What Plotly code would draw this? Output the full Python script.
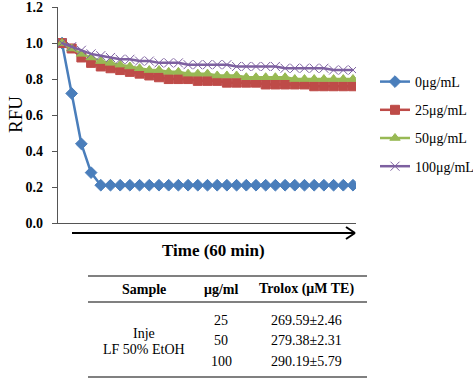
import plotly.graph_objects as go

time_min = list(range(0, 61, 2))
series_names = ["0μg/mL", "25μg/mL", "50μg/mL", "100μg/mL"]
rfu_0 = [1.00, 0.72, 0.44, 0.28, 0.21, 0.21, 0.21, 0.21, 0.21, 0.21, 0.21, 0.21, 0.21, 0.21, 0.21, 0.21,
         0.21, 0.21, 0.21, 0.21, 0.21, 0.21, 0.21, 0.21, 0.21, 0.21, 0.21, 0.21, 0.21, 0.21, 0.21]
rfu_25 = [1.00, 0.97, 0.92, 0.89, 0.87, 0.86, 0.85, 0.84, 0.83, 0.82, 0.81, 0.80, 0.80, 0.80, 0.79, 0.79,
          0.79, 0.78, 0.78, 0.78, 0.78, 0.77, 0.77, 0.77, 0.77, 0.77, 0.76, 0.76, 0.76, 0.76, 0.76]
rfu_50 = [1.00, 0.97, 0.94, 0.92, 0.90, 0.89, 0.88, 0.87, 0.86, 0.85, 0.85, 0.84, 0.84, 0.83, 0.83, 0.83,
          0.82, 0.82, 0.82, 0.81, 0.81, 0.81, 0.81, 0.81, 0.80, 0.80, 0.80, 0.80, 0.80, 0.80, 0.80]
rfu_100 = [1.00, 0.98, 0.96, 0.94, 0.93, 0.92, 0.91, 0.91, 0.90, 0.90, 0.89, 0.89, 0.89, 0.88, 0.88, 0.88,
           0.88, 0.88, 0.87, 0.87, 0.87, 0.87, 0.87, 0.86, 0.86, 0.86, 0.86, 0.86, 0.85, 0.85, 0.85]
y_ticks = [0.0, 0.2, 0.4, 0.6, 0.8, 1.0, 1.2]

table_header = ["Sample", "μg/ml", "Trolox (μM TE)"]
table_sample = ["Inje", "LF 50% EtOH"]
table_conc = ["25", "50", "100"]
table_trolox = ["269.59±2.46", "279.38±2.31", "290.19±5.79"]

colors = ["#4a7ebb", "#be4b48", "#98b954", "#7d60a0"]
symbols = ["diamond", "square", "triangle-up", "x-thin-open"]
sizes = [9, 9, 9, 9]
serif = "Liberation Serif"

W, H = 473, 379
L, R, T, B = 58, 356, 7, 223
YMAX = 1.2005

def px(xp):
    return (xp - L) / (R - L)

def py(yp):
    return (B - yp) / (B - T)

fig = go.Figure()
for i, (name, ys) in enumerate(zip(series_names, [rfu_0, rfu_25, rfu_50, rfu_100])):
    fig.add_trace(go.Scatter(
        x=time_min, y=ys, name=name, mode="lines+markers",
        line=dict(color=colors[i], width=2.5),
        marker=dict(symbol=symbols[i], size=sizes[i], color=colors[i],
                    line=dict(color=colors[i], width=1)),
        legendgroup=str(i),
    ))

fig.update_layout(
    width=W, height=H, autosize=False,
    margin=dict(l=L, r=W - R, t=T, b=H - B, pad=0, autoexpand=False),
    paper_bgcolor="white", plot_bgcolor="white",
    showlegend=True,
    legend=dict(x=px(375), y=py(66), xanchor="left", yanchor="top",
                font=dict(family=serif, size=14, color="black"),
                tracegroupgap=7, bgcolor="rgba(0,0,0,0)"),
    xaxis=dict(range=[-0.82, 60.62], showgrid=False, zeroline=False, automargin=False,
               showticklabels=False, ticks="", showline=True,
               linecolor="#555", linewidth=1.2),
    yaxis=dict(range=[0, YMAX], tickmode="array", tickvals=y_ticks, automargin=False,
               ticktext=["%.1f" % v for v in y_ticks], showgrid=False,
               zeroline=False, showline=True, linecolor="#555", linewidth=1.2,
               ticks="outside", ticklen=5, tickcolor="#555", ticklabelstandoff=6,
               ticklabeloverflow="allow",
               tickfont=dict(family=serif, size=14, color="black", weight="bold")),
)

def text(x, y, s, size, angle=0):
    return dict(x=px(x), y=py(y), xref="paper", yref="paper", text=s, textangle=angle,
                xanchor="center", yanchor="middle", showarrow=False,
                font=dict(family=serif, size=size, color="black"))

ann = []
ann.append(text(15, 114, "RFU", 19, -90))
ann.append(text(213, 250, "<b>Time (60 min)</b>", 17))

shapes = []
# arrow below x axis
shapes.append(dict(type="line", xref="paper", yref="paper", x0=px(72), x1=px(355),
                   y0=py(233), y1=py(233), line=dict(color="black", width=2)))
shapes.append(dict(type="line", xref="paper", yref="paper", x0=px(346), x1=px(355),
                   y0=py(227), y1=py(233), line=dict(color="black", width=2)))
shapes.append(dict(type="line", xref="paper", yref="paper", x0=px(346), x1=px(355),
                   y0=py(239), y1=py(233), line=dict(color="black", width=2)))

# table lines
for yl in [276, 302, 377]:
    shapes.append(dict(type="line", xref="paper", yref="paper", x0=px(88), x1=px(367),
                       y0=py(yl), y1=py(yl), line=dict(color="#808080", width=2)))

col_x = [144, 221, 306]
for cx, h in zip(col_x, table_header):
    ann.append(text(cx, 289, "<b>%s</b>" % h, 14))
for j, s in enumerate(table_sample):
    ann.append(text(144, 333 + 16 * j, s, 14))
for j, (c, t) in enumerate(zip(table_conc, table_trolox)):
    yy = 320 + 20.5 * j
    ann.append(text(221, yy, c, 14))
    ann.append(text(306, yy, t, 14))

fig.update_layout(annotations=ann, shapes=shapes)
fig.write_html("out.html", config={"displayModeBar": False},
               post_script="document.body.style.margin='0';")
